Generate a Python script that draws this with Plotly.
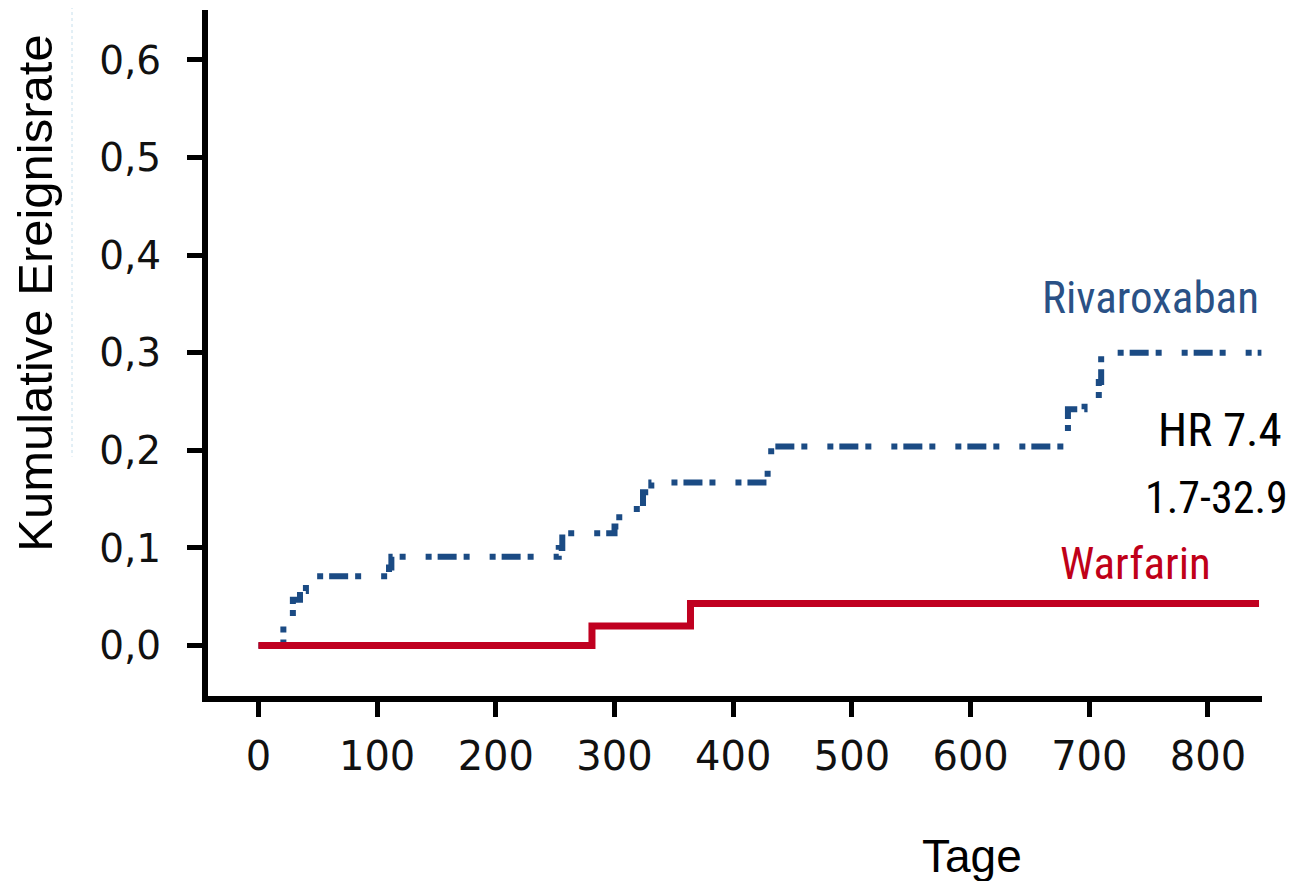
import plotly.graph_objects as go

# ---- data ----
riva_days = [0, 21, 29, 35, 40, 110, 112, 253, 256, 300, 304, 324, 331, 429, 432, 682, 696, 708, 710, 845]
riva_rate = [0, 0.028, 0.047, 0.056, 0.071, 0.080, 0.091, 0.100, 0.115, 0.122, 0.140, 0.157, 0.167, 0.185, 0.204, 0.242, 0.250, 0.270, 0.300, 0.300]

warf_days = [0, 281, 364, 843]
warf_rate = [0, 0.020, 0.043, 0.043]

x_ticks = [0, 100, 200, 300, 400, 500, 600, 700, 800]
y_ticks = [0.0, 0.1, 0.2, 0.3, 0.4, 0.5, 0.6]
y_tick_labels = ["0,0", "0,1", "0,2", "0,3", "0,4", "0,5", "0,6"]

# ---- layout geometry (pixels in the 1297x881 window) ----
OFF = 8  # default page body margin
W, H = 1297 - OFF, 881 - OFF
L, R, T, B = 208 - OFF, 1262 - OFF, 10 - OFF, 696.5 - OFF

def px(xp):
    return (xp - OFF - L) / (R - L)

def py(yp):
    return (B - (yp - OFF)) / (B - T)

BLUE = "#1b4b84"
RED = "#c00020"
NARROW = "Liberation Sans Narrow, Arial Narrow, Roboto Condensed, Roboto, sans-serif"

fig = go.Figure()

fig.add_trace(go.Scatter(
    x=riva_days, y=riva_rate, mode="lines", line_shape="hv",
    line=dict(color=BLUE, width=6, dash="6px,6px,19px,7px,6px,20px"),
    showlegend=False, hoverinfo="skip",
))
fig.add_trace(go.Scatter(
    x=warf_days, y=warf_rate, mode="lines", line_shape="hv",
    line=dict(color=RED, width=7), showlegend=False, hoverinfo="skip",
))

annotations = [
    dict(text="Kumulative Ereignisrate", x=px(35), y=py(294), textangle=-90,
         font=dict(family="Liberation Sans, Arial, sans-serif", size=49, color="#000")),
    dict(text="Tage", x=px(972), y=py(857),
         font=dict(family="Liberation Sans, Arial, sans-serif", size=46, color="#000")),
    dict(text="Rivaroxaban", x=px(1150), y=py(298),
         font=dict(family=NARROW, size=45, color="#2a5186")),
    dict(text="HR 7.4", x=px(1220), y=py(430),
         font=dict(family=NARROW, size=47, color="#000")),
    dict(text="1.7-32.9", x=px(1216.5), y=py(498.5),
         font=dict(family=NARROW, size=44, color="#000")),
    dict(text="Warfarin", x=px(1135), y=py(563.5),
         font=dict(family=NARROW, size=45, color="#c00018")),
]
for a in annotations:
    a.update(xref="paper", yref="paper", xanchor="center", yanchor="middle",
             showarrow=False)

fig.update_layout(
    width=W, height=H,
    margin=dict(l=L, r=W - R, t=T, b=H - B, pad=0),
    paper_bgcolor="white", plot_bgcolor="white",
    annotations=annotations,
    shapes=[dict(type="line", xref="paper", yref="paper",
                 x0=px(72), x1=px(72), y0=py(0), y1=py(457),
                 line=dict(color="#c6dfec", width=1, dash="dot"))],
)

fig.update_xaxes(
    range=[-42.5, 845.5], tickvals=x_ticks, ticktext=[str(v) for v in x_ticks],
    showgrid=False, zeroline=False, showline=True, linecolor="#000", linewidth=6,
    ticks="outside", ticklen=15, tickwidth=5, tickcolor="#000",
    tickfont=dict(family="DejaVu Sans, sans-serif", size=40, color="#111"),
    ticklabelstandoff=5,
)
fig.update_yaxes(
    range=[-0.0517, 0.6512], tickvals=y_ticks, ticktext=y_tick_labels,
    showgrid=False, zeroline=False, showline=True, linecolor="#000", linewidth=6,
    ticks="outside", ticklen=15, tickwidth=5, tickcolor="#000",
    tickfont=dict(family="DejaVu Sans, sans-serif", size=39, color="#111"),
    ticklabelstandoff=18,
)

fig.write_html("out.html")
